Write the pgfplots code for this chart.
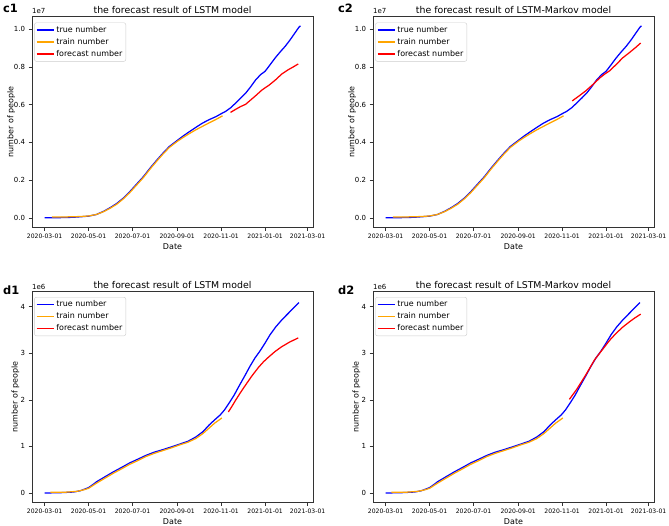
\documentclass[border=0pt]{standalone}
\usepackage{fontspec}
\setmainfont{DejaVu Sans}
\usepackage{pgfplots}
\pgfplotsset{compat=1.18}
\definecolor{mplorange}{rgb}{1,0.647,0}
\definecolor{mplblue}{rgb}{0,0,1}
\definecolor{mplred}{rgb}{1,0,0}

\pgfplotsset{
 panel/.style={
  scale only axis, width=281bp, height=210.5bp, anchor=south west,
  xmin=-17.5, xmax=372.5,
  xtick={0,61,122,184,245,306,365},
  xticklabels={2020-03-01,2020-05-01,2020-07-01,2020-09-01,2020-11-01,2021-01-01,2021-03-01},
  tick align=outside, tick pos=left, major tick length=3.5bp,
  axis line style={black!80, line width=0.6bp},
  every tick/.style={black!80, line width=0.6bp},
  x tick label style={font=\fontsize{6.1}{7}\selectfont},
  y tick label style={font=\fontsize{7}{8}\selectfont},
  title style={font=\fontsize{9.4}{11}\selectfont, at={(0.5,1)}, anchor=base, yshift=-2.3bp},
  xlabel=Date, ylabel=number of people,
  label style={font=\fontsize{8}{9}\selectfont},
  xlabel style={at={(0.5,0)}, anchor=center, yshift=-19bp},
  legend style={at={(0.008,0.975)}, anchor=north west, draw=black!20, rounded corners=2bp,
    fill=white, font=\fontsize{8}{9}\selectfont, inner sep=1.5bp, row sep=0.5bp},
  legend cell align=left,
  legend image code/.code={\draw[#1, line width=1.5bp, sharp corners] (0bp,0bp) -- (17bp,0bp);},
  /pgf/number format/assume math mode=true,
 },
 cpanel/.style={panel, ymin=-0.05, ymax=1.066, ytick={0,0.2,0.4,0.6,0.8,1.0},
  yticklabel style={/pgf/number format/fixed, /pgf/number format/precision=1, /pgf/number format/fixed zerofill},
  legend style={at={(0.008,0.9725)}},
  ylabel style={at={(axis description cs:-0.074,0.5)}, anchor=center}},
 dpanel/.style={panel, ymin=-0.2, ymax=4.32, ytick={0,1,2,3,4},
  ylabel style={at={(axis description cs:-0.059,0.5)}, anchor=center}},
 tru/.style={draw=mplblue, line width=1.25bp},
 trn/.style={draw=mplorange, line width=1.25bp},
 fct/.style={draw=mplred, line width=1.25bp},
}

% c: values in units of 1e7; d: values in units of 1e6; x: days since 2020-03-01
\pgfplotstableread{
x y
0 0
20 0.001
40 0.003
61 0.009
72 0.018
82 0.035
91 0.054
100 0.076
109 0.104
118 0.138
127 0.176
137 0.218
146 0.262
155 0.303
164 0.342
173 0.378
185 0.413
193 0.436
201 0.457
210 0.480
219 0.502
228 0.520
238 0.537
245 0.552
251 0.564
258 0.583
265 0.608
272 0.634
279 0.661
286 0.695
293 0.732
300 0.760
306 0.777
313 0.812
320 0.848
327 0.880
334 0.910
341 0.945
347 0.978
353 1.011
355 1.018
}\ctrue
\pgfplotstableread{
x y
10 0.004
30 0.005
50 0.007
61 0.010
72 0.018
82 0.033
91 0.051
100 0.072
109 0.100
118 0.133
127 0.171
137 0.213
146 0.257
155 0.298
164 0.337
173 0.373
185 0.408
193 0.428
201 0.447
210 0.467
219 0.485
228 0.503
238 0.522
247 0.541
}\ctrain
\pgfplotstableread{
x y
258 0.559
265 0.575
272 0.590
279 0.602
286 0.625
293 0.648
302 0.679
311 0.702
320 0.730
329 0.762
338 0.785
345 0.800
352 0.816
}\cfcone
\pgfplotstableread{
x y
259 0.620
268 0.645
278 0.674
288 0.708
297 0.741
304 0.762
311 0.780
320 0.813
329 0.848
338 0.875
346 0.900
354 0.927
}\cfctwo
\pgfplotstableread{
x y
0 0
20 0.005
40 0.02
50 0.05
61 0.115
67 0.18
72 0.24
84 0.35
95 0.45
107 0.55
118 0.645
130 0.73
141 0.81
152 0.875
164 0.93
176 0.99
187 1.047
199 1.11
210 1.204
220 1.32
228 1.455
236 1.57
244 1.68
250 1.79
256 1.93
263 2.10
270 2.30
278 2.52
285 2.72
292 2.90
299 3.05
306 3.22
313 3.40
321 3.57
330 3.73
339 3.87
346 3.98
353 4.09
}\dtrue
\pgfplotstableread{
x y
8 0.015
30 0.018
45 0.035
55 0.07
61 0.10
67 0.16
72 0.21
84 0.32
95 0.42
107 0.52
118 0.615
130 0.70
141 0.785
152 0.85
164 0.91
176 0.97
187 1.03
199 1.09
210 1.17
220 1.28
228 1.39
236 1.50
246 1.61
}\dtrain
\pgfplotstableread{
x y
255 1.74
260 1.86
265 1.99
272 2.16
279 2.32
288 2.52
297 2.70
304 2.82
311 2.92
320 3.04
329 3.14
340 3.24
352 3.33
}\dfcone
\pgfplotstableread{
x y
255 2.01
265 2.22
278 2.54
290 2.86
303 3.12
311 3.28
320 3.43
329 3.56
338 3.67
346 3.76
354 3.84
}\dfctwo

\begin{document}
\begin{tikzpicture}[x=1bp,y=1bp]
\useasboundingbox (0,0) rectangle (669,526);

% c1
\begin{axis}[cpanel, at={(32bp,298.7bp)}, title={the forecast result of LSTM model}]
\addplot[tru] table {\ctrue};
\addplot[trn] table {\ctrain};
\addplot[fct] table {\cfcone};
\legend{true number, train number, forecast number}
\end{axis}
% c2
\begin{axis}[cpanel, at={(373bp,298.7bp)}, title={the forecast result of LSTM-Markov model}]
\addplot[tru] table {\ctrue};
\addplot[trn] table {\ctrain};
\addplot[fct] table {\cfctwo};
\legend{true number, train number, forecast number}
\end{axis}
% d1
\begin{axis}[dpanel, at={(32bp,23.7bp)}, title={the forecast result of LSTM model}]
\addplot[tru] table {\dtrue};
\addplot[trn] table {\dtrain};
\addplot[fct] table {\dfcone};
\legend{true number, train number, forecast number}
\end{axis}
% d2
\begin{axis}[dpanel, at={(373bp,23.7bp)}, title={the forecast result of LSTM-Markov model}]
\addplot[tru] table {\dtrue};
\addplot[trn] table {\dtrain};
\addplot[fct] table {\dfctwo};
\legend{true number, train number, forecast number}
\end{axis}

\node[anchor=base west, font=\fontsize{7}{8}\selectfont, inner sep=0] at (32,512) {1e7};
\node[anchor=base west, font=\fontsize{7}{8}\selectfont, inner sep=0] at (373,512) {1e7};
\node[anchor=base west, font=\fontsize{7}{8}\selectfont, inner sep=0] at (32,236.5) {1e6};
\node[anchor=base west, font=\fontsize{7}{8}\selectfont, inner sep=0] at (373,236.5) {1e6};

\node[anchor=base west, font=\fontsize{11.5}{12}\selectfont\bfseries, inner sep=0] at (3,513) {c1};
\node[anchor=base west, font=\fontsize{11.5}{12}\selectfont\bfseries, inner sep=0] at (338,513) {c2};
\node[anchor=base west, font=\fontsize{11.5}{12}\selectfont\bfseries, inner sep=0] at (3,231) {d1};
\node[anchor=base west, font=\fontsize{11.5}{12}\selectfont\bfseries, inner sep=0] at (338,231) {d2};
\end{tikzpicture}
\end{document}
